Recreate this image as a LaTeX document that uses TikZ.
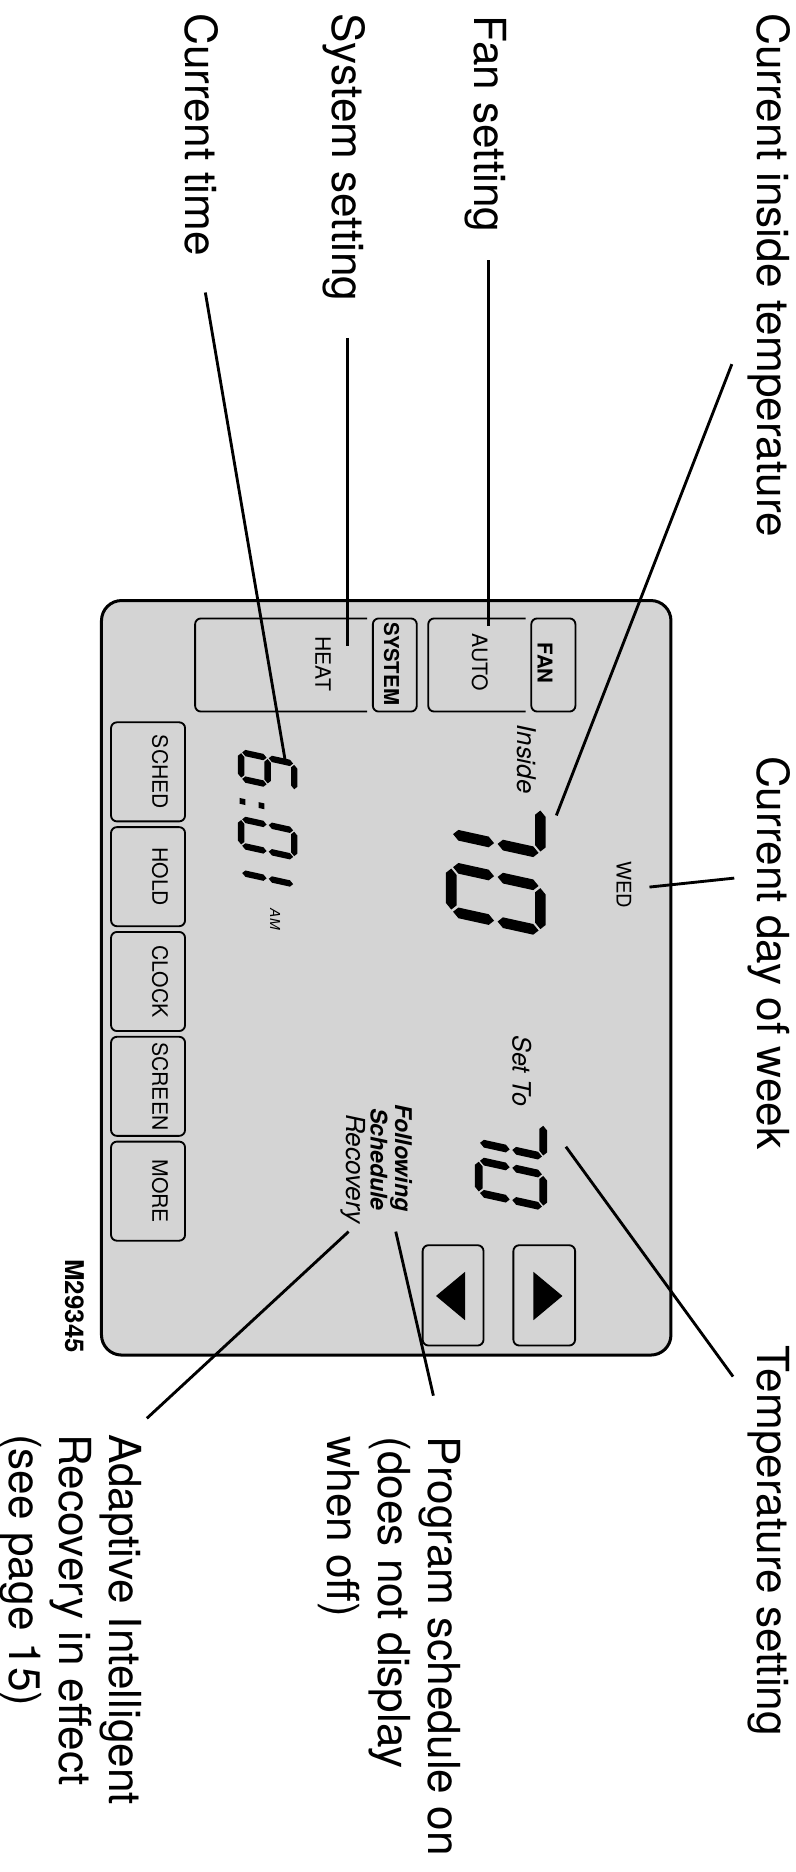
\documentclass[tikz,border=0pt]{standalone}
\usepackage{fontspec}
\setmainfont{TeX Gyre Heros}
\usepackage{xcolor}
\usetikzlibrary{positioning}
\definecolor{lcdgray}{RGB}{212,212,212}
\tikzset{
    panel/.style={draw, fill=lcdgray, line width=1.8pt, rounded corners=12pt},
    keybox/.style={draw, line width=1.1pt, rounded corners=3.5pt},
    leader/.style={line width=1.7pt},
    callout/.style={rotate=-90, anchor=north west, inner sep=0pt, align=left, font=\fontsize{26.3}{29.9}\selectfont},
    lcdtext/.style={rotate=-90, inner sep=0pt, font=\fontsize{12.6}{14}\selectfont},
    lcdbold/.style={lcdtext, font=\fontsize{12.2}{14}\selectfont\bfseries},
    lcdital/.style={rotate=-90, inner sep=0pt, font=\fontsize{15.4}{17}\selectfont\itshape},
}
% seven segment pieces (digit 1 wide, 2 high)
\newcommand{\hseg}[1]{\fill (0.04,#1) -- ++(0.12,0.12) -- ++(0.68,0) -- ++(0.12,-0.12) -- ++(-0.12,-0.12) -- ++(-0.68,0) -- cycle;}
\newcommand{\vseg}[2]{\fill (#1,#2+0.04) -- ++(0.12,0.12) -- ++(0,0.68) -- ++(-0.12,0.12) -- ++(-0.12,-0.12) -- ++(0,-0.68) -- cycle;}
\newcommand{\segA}{\hseg{2}}
\newcommand{\segB}{\vseg{1}{1}}
\newcommand{\segC}{\vseg{1}{0}}
\newcommand{\segD}{\hseg{0}}
\newcommand{\segE}{\vseg{0}{0}}
\newcommand{\segF}{\vseg{0}{1}}
\newcommand{\segG}{\hseg{1}}
\newcommand{\lcddigit}[4]{%
  \begin{scope}[shift={(#1,#2)}, rotate=-90, xslant=0.22, x=#3, y=#3]
    #4
  \end{scope}}

\begin{document}
\begin{tikzpicture}[x=0.025cm, y=-0.025cm]
    \useasboundingbox (0,0) rectangle (666,1568);

    % display
    \draw[panel] (85,503) rectangle (562,1135);

    % mode boxes
    \draw[keybox] (445,518) rectangle (482,596);
    \draw[keybox] (440.3,518) -- (358.7,518) -- (358.7,596) -- (440.3,596);
    \draw[keybox] (312.3,518) rectangle (349.1,596);
    \draw[keybox] (307.5,518) -- (163.4,518) -- (163.4,596) -- (307.5,596);
    \node[lcdbold] (fan) at (456.5,555.5) {FAN};
    \node[lcdtext] (auto) at (402,554.7) {AUTO};
    \node[lcdbold] (system) at (328,556) {SYSTEM};
    \node[lcdtext] (heat) at (270.7,556) {HEAT};

    % keys on the left
    \foreach \lbl [count=\i from 0] in {SCHED,HOLD,CLOCK,SCREEN,MORE} {
        \draw[keybox] (93,{605+87.8*\i}) rectangle ++(62,83);
        \node[lcdtext] (key\i) at (134,{646.5+87.8*\i}) {\lbl};
    }

    % arrow keys
    \draw[keybox] (354,1043) rectangle (405,1127);
    \draw[keybox] (430,1043) rectangle (481.7,1127);
    \fill (365.2,1085.5) -- (389.5,1065.3) -- (389.5,1105.8) -- cycle;
    \fill (471.1,1085.5) -- (446.8,1065.3) -- (446.8,1105.8) -- cycle;

    % readings
    \node[lcdital] (inside) at (441,635.7) {Inside};
    \lcddigit{378}{661}{0.9325cm}{\segA\segB\segC}
    \lcddigit{378}{726}{0.9325cm}{\segA\segB\segC\segD\segE\segF}
    \node[lcdtext, font=\fontsize{12}{14}\selectfont] (wed) at (522.7,741) {WED};

    \lcddigit{202}{630}{0.555cm}{\segA\segC\segD\segE\segF\segG
        \fill (1.74,-0.06) rectangle ++(0.22,0.22);
        \fill (1.74,0.66) rectangle ++(0.22,0.22);}
    \lcddigit{202}{686}{0.555cm}{\segA\segB\segC\segD\segE\segF}
    \lcddigit{202}{731}{0.555cm}{\segE\segF}
    \node[rotate=-90, anchor=north west, inner sep=0pt, font=\fontsize{8.2}{9}\selectfont\itshape] (am) at (235,761) {AM};

    \node[lcdital, font=\fontsize{15}{17}\selectfont\itshape] (setto) at (437,897) {Set To};
    \lcddigit{401}{930}{0.675cm}{\segA\segB\segC}
    \lcddigit{401}{972}{0.675cm}{\segA\segB\segC\segD\segE\segF}

    \node[rotate=-90, anchor=base west, inner sep=0pt, font=\fontsize{13.7}{15}\selectfont\bfseries\itshape] (following) at (331,925) {Following};
    \node[rotate=-90, anchor=base west, inner sep=0pt, font=\fontsize{13.7}{15}\selectfont\bfseries\itshape] (schedule) at (310.5,928) {Schedule};
    \node[rotate=-90, anchor=base west, inner sep=0pt, font=\fontsize{15.6}{17}\selectfont\itshape] (recovery) at (290,933) {Recovery};

    \node[rotate=-90, inner sep=0pt, font=\fontsize{15.4}{17}\selectfont\bfseries] (code) at (63,1094) {M29345};

    % callouts
    \node[callout] (insidelbl) at (662,11) {Current inside temperature};
    \node[callout] (fanlbl) at (425,13) {Fan setting};
    \node[callout] (systemlbl) at (306,11) {System setting};
    \node[callout] (timelbl) at (183,11) {Current time};
    \node[callout] (daylbl) at (662,633) {Current day of week};
    \node[callout] (setlbl) at (662,1127) {Temperature setting};
    \node[callout] (schedlbl) at (386,1203) {Program schedule on\\(does not display\\when off)};
    \node[callout] (recovlbl) at (119,1201) {Adaptive Intelligent\\Recovery in effect\\(see page 15)};

    \coordinate (insidefrom) at (613,305);
    \coordinate (insideto) at (466,683);
    \coordinate (fanfrom) at (409,218);
    \coordinate (fanto) at (409,524);
    \coordinate (systemfrom) at (291,283);
    \coordinate (systemto) at (291,541);
    \coordinate (timefrom) at (172,245);
    \coordinate (timeto) at (238.7,636);
    \coordinate (dayfrom) at (615,735.5);
    \coordinate (dayto) at (544,743);
    \coordinate (setfrom) at (614,1153);
    \coordinate (setto2) at (474,960.5);
    \coordinate (schedfrom) at (363,1169);
    \coordinate (schedto) at (331.5,1031.6);
    \coordinate (recovfrom) at (123,1188);
    \coordinate (recovto) at (292,1031.6);

    \draw[leader] (insidefrom) -- (insideto);
    \draw[leader] (fanfrom) -- (fanto);
    \draw[leader] (systemfrom) -- (systemto);
    \draw[leader] (timefrom) -- (timeto);
    \draw[leader] (dayfrom) -- (dayto);
    \draw[leader] (setfrom) -- (setto2);
    \draw[leader] (schedfrom) -- (schedto);
    \draw[leader] (recovfrom) -- (recovto);
\end{tikzpicture}
\end{document}
